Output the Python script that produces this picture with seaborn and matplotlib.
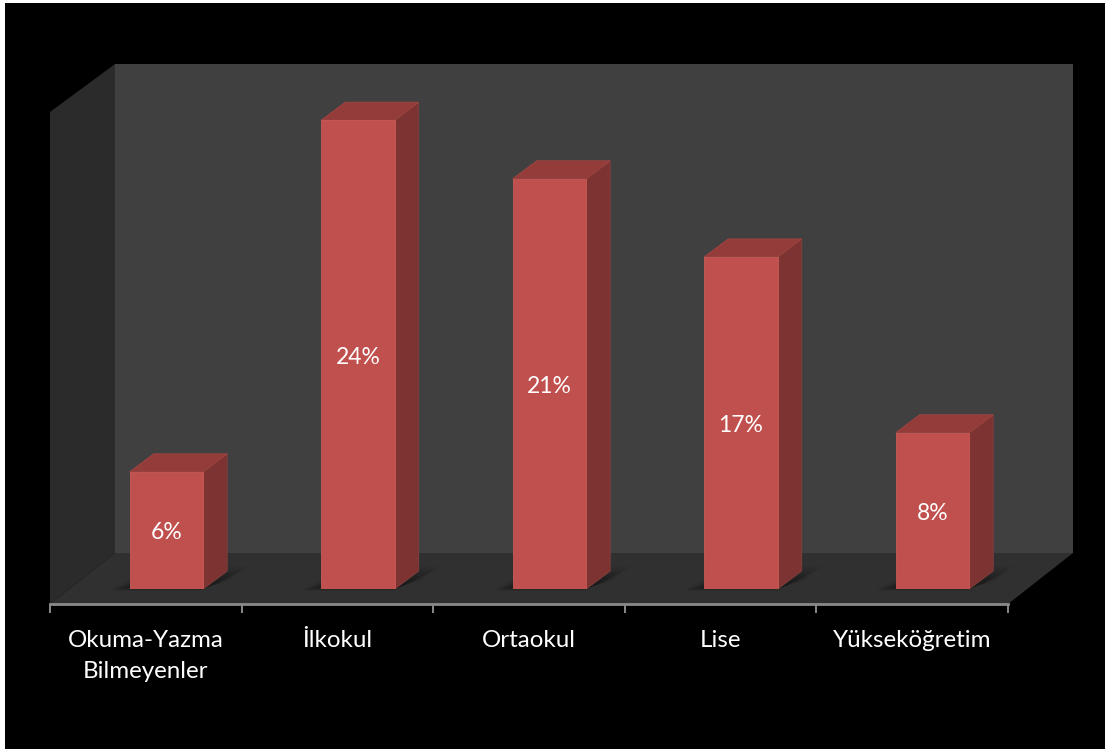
import matplotlib
matplotlib.use("Agg")
import matplotlib.pyplot as plt
from matplotlib.patches import Polygon, Rectangle
import seaborn as sns

categories = ["Okuma-Yazma\nBilmeyenler", "İlkokul", "Ortaokul", "Lise", "Yükseköğretim"]
shares = [6, 24, 21, 17, 8]

FRONT = "#c0504d"
SIDE = "#7c3331"
TOP = "#933c3a"
BACK_WALL = "#404040"
SIDE_WALL = "#2b2b2b"
FLOOR = "#303030"
AXIS_GREY = "#8a8a8a"

W, H = 1105, 749
sns.set_theme(style="white")
plt.rcParams["font.family"] = ["Lato", "DejaVu Sans"]

fig = plt.figure(figsize=(W / 100, H / 100), dpi=100, facecolor="white")


def box(left, top, right, bottom):
    return [left / W, 1 - bottom / H, (right - left) / W, (bottom - top) / H]


# Backdrop in pixel units: black panel, walls and floor of the 3D stage
stage = fig.add_axes([0, 0, 1, 1])
stage.set_xlim(0, W)
stage.set_ylim(H, 0)
stage.axis("off")
stage.add_patch(Rectangle((5, 3), W - 5, H - 3, color="black", lw=0))
stage.add_patch(Rectangle((115, 64), 958, 489, color=BACK_WALL, lw=0))
stage.add_patch(Polygon([(50, 112), (115, 64), (115, 553), (50, 604)], color=SIDE_WALL, lw=0))
stage.add_patch(Polygon([(50, 604), (115, 553), (1073, 553), (1008, 604)], color=FLOOR, lw=0))

# Category axis along the front edge of the floor
base = fig.add_axes(box(50, 500, 1008, 604), facecolor="none")
base.set_xlim(-0.5, len(categories) - 0.5)
base.set_ylim(0, 1)
base.set_yticks([])
sns.despine(ax=base, left=True)
base.spines["bottom"].set_color(AXIS_GREY)
base.spines["bottom"].set_linewidth(2)
base.set_xticks([i - 0.5 for i in range(len(categories) + 1)])
base.set_xticklabels([])
base.tick_params(axis="x", which="major", length=6.5, width=1.4, color=AXIS_GREY, bottom=True)
base.set_xticks(range(len(categories)), minor=True)
base.set_xticklabels(categories, minor=True, color="white", fontsize=17.4, linespacing=1.58)
base.tick_params(axis="x", which="minor", length=0, pad=19)

# Front faces of the columns
ax = fig.add_axes(box(70.7, 3, 1028.2, 589), facecolor="none")
sns.barplot(x=categories, y=shares, color=FRONT, saturation=1, width=73.5 / 191.5,
            edgecolor="#c95a57", linewidth=0.6, ax=ax, zorder=5)
ax.set_xlim(-0.5, len(categories) - 0.5)
ax.set_ylim(0, 30)
ax.axis("off")

px = 1 / 191.5
py = 30 / 586
depth_x, depth_y = 24 * px, 18 * py

for bar in ax.patches:
    x0, x1 = bar.get_x(), bar.get_x() + bar.get_width()
    h = bar.get_height()

    # Soft contact shadow on the floor, built from stacked translucent layers
    for grow in range(20, 0, -1):
        g = grow * 1.0
        top_edge = (6 + grow * 0.85) * py
        low_edge = (2 - grow * 0.18) * py
        ax.add_patch(Polygon(
            [(x0 - g * px, low_edge),
             (x1, low_edge),
             (x1 + depth_x + g * px, top_edge),
             (x0 + depth_x, top_edge)],
            color="#141414", alpha=0.035, lw=0, zorder=2, clip_on=False))

    ax.add_patch(Polygon([(x1, 0), (x1 + depth_x, depth_y), (x1 + depth_x, h + depth_y), (x1, h)],
                         fc=SIDE, ec="#83403d", lw=0.6, zorder=4, clip_on=False))
    ax.add_patch(Polygon([(x0, h), (x0 + depth_x, h + depth_y), (x1 + depth_x, h + depth_y), (x1, h)],
                         fc=TOP, ec="#a04542", lw=0.6, zorder=4, clip_on=False))

value_labels = ax.bar_label(ax.containers[0], labels=[f"{v}%" for v in shares],
                            label_type="center", color="white", fontsize=16.5, zorder=6)
for label in value_labels:
    label.xyann = (0, -1.8)

fig.savefig("out.png", dpi=100, facecolor=fig.get_facecolor())
